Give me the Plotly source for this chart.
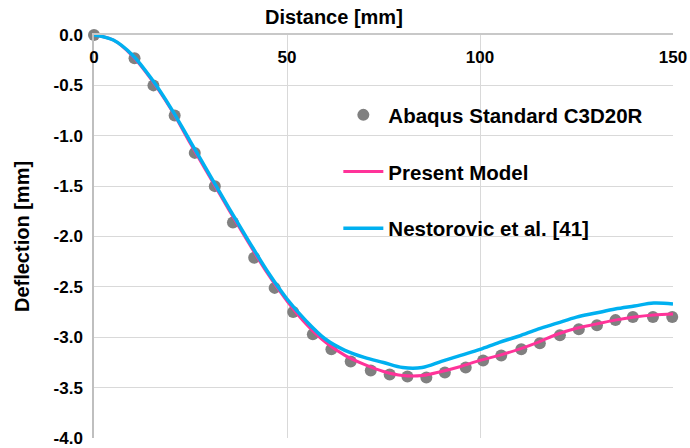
import plotly.graph_objects as go

# Abaqus Standard C3D20R (points)
abaqus_x = [0, 10.5, 15.4, 20.9, 26.1, 31.3, 36.0, 41.5, 46.8, 51.6, 56.7, 61.5, 66.5, 71.7, 76.6,
            81.2, 86.1, 90.9, 96.3, 100.8, 105.5, 110.7, 115.5, 120.7, 125.6, 130.3, 135.1, 139.6, 144.8, 149.8]
abaqus_y = [0.0, -0.23, -0.50, -0.80, -1.17, -1.50, -1.86, -2.21, -2.51, -2.75, -2.97, -3.12, -3.24, -3.33, -3.37,
            -3.39, -3.40, -3.35, -3.30, -3.23, -3.18, -3.12, -3.06, -2.98, -2.92, -2.88, -2.83, -2.80, -2.80, -2.80]

# Curves
curve_x = [0, 5, 10, 15, 20, 25, 30, 35, 40, 45, 50, 55, 60, 65, 70, 75, 80, 85, 90, 95, 100,
           105, 110, 115, 120, 125, 130, 135, 140, 145, 150]
present_y = [0.0, -0.05, -0.21, -0.45, -0.74, -1.08, -1.41, -1.74, -2.06, -2.37, -2.64, -2.87, -3.05, -3.18,
             -3.27, -3.34, -3.38, -3.38, -3.34, -3.29, -3.23, -3.18, -3.12, -3.05, -2.97, -2.91, -2.87,
             -2.83, -2.80, -2.78, -2.77]
nestorovic_y = [0.0, -0.05, -0.20, -0.44, -0.73, -1.06, -1.39, -1.72, -2.04, -2.35, -2.62, -2.84, -3.02, -3.13,
                -3.20, -3.25, -3.30, -3.30, -3.24, -3.18, -3.12, -3.05, -2.99, -2.92, -2.86, -2.80, -2.76,
                -2.72, -2.69, -2.66, -2.67]

x_ticks = [0, 50, 100, 150]
x_tick_labels = ["0", "50", "100", "150"]
y_ticks = [0.0, -0.5, -1.0, -1.5, -2.0, -2.5, -3.0, -3.5, -4.0]
y_tick_labels = ["0.0", "-0.5", "-1.0", "-1.5", "-2.0", "-2.5", "-3.0", "-3.5", "-4.0"]

FONT = "Liberation Sans, Arial, sans-serif"

fig = go.Figure()
fig.add_trace(go.Scatter(
    x=abaqus_x, y=abaqus_y, mode="markers", name="Abaqus Standard C3D20R",
    marker=dict(color="#808080", size=12), cliponaxis=False, legendgroup="a"))
fig.add_trace(go.Scatter(
    x=curve_x, y=present_y, mode="lines", name="Present Model",
    line=dict(color="#FF3399", width=3, shape="spline", smoothing=1), legendgroup="b"))
fig.add_trace(go.Scatter(
    x=curve_x, y=nestorovic_y, mode="lines", name="Nestorovic et al. [41]", xaxis="x2", yaxis="y",
    line=dict(color="#00B0F0", width=3.5, shape="spline", smoothing=1), legendgroup="c"))

fig.update_layout(
    width=690, height=448,
    margin=dict(l=94, r=17, t=35, b=10, autoexpand=False),
    paper_bgcolor="white", plot_bgcolor="white",
    font=dict(family=FONT, color="black"),
    showlegend=True,
    legend=dict(
        x=0.422, y=0.851, xanchor="left", yanchor="top",
        font=dict(family=FONT, size=20.5, weight="bold", color="black"),
        bgcolor="rgba(0,0,0,0)", itemwidth=40, traceorder="grouped", tracegroupgap=27,
    ),
    xaxis=dict(
        side="top", range=[0, 150], tickvals=x_ticks, showticklabels=False,
        showgrid=True, gridcolor="#D9D9D9", gridwidth=1,
        showline=True, linecolor="#C8C8C8", linewidth=1.5,
        zeroline=False, ticks="", automargin=False,
    ),
    xaxis2=dict(
        overlaying="x", matches="x", side="top", anchor="free", position=0.923,
        range=[0, 150], tickvals=x_ticks, ticktext=x_tick_labels,
        tickfont=dict(family=FONT, size=17, weight="bold", color="black"),
        showgrid=False, showline=False, zeroline=False, ticks="", automargin=False,
    ),
    yaxis=dict(
        range=[-4, 0], tickvals=y_ticks, ticktext=y_tick_labels,
        tickfont=dict(family=FONT, size=17, weight="bold", color="black"),
        showgrid=True, gridcolor="#D9D9D9", gridwidth=1,
        showline=True, linecolor="#BFBFBF", linewidth=1.5,
        zeroline=False, ticks="", ticklabelstandoff=6,
        automargin=False,
        title=dict(text="Deflection [mm]", standoff=19,
                   font=dict(family=FONT, size=20, weight="bold", color="black")),
    ),
    annotations=[dict(
        text="Distance [mm]", xref="paper", yref="paper", x=0.414, y=1.044,
        xanchor="center", yanchor="middle", showarrow=False,
        font=dict(family=FONT, size=20, weight="bold", color="black"),
    )],
)

fig.write_html("out.html", config={"displayModeBar": False},
               post_script="document.body.style.margin='0';document.body.style.overflow='hidden';")
